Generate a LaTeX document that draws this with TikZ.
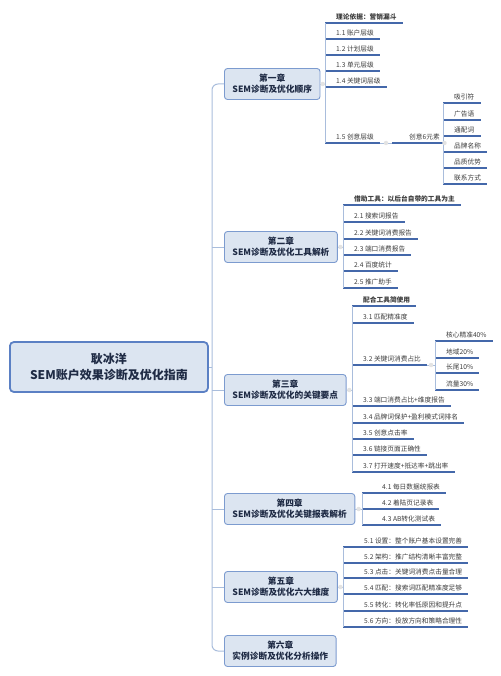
\documentclass[tikz,border=0pt]{standalone}
\usepackage{fontspec}
\setmainfont{Noto Sans CJK SC}
\usepackage{tikz}
\definecolor{boxfill}{HTML}{DCE5F1}
\definecolor{boxline}{HTML}{7C9BCF}
\definecolor{rootline}{HTML}{5B80C4}
\definecolor{titletext}{HTML}{1F2B45}
\definecolor{leaftext}{HTML}{3C3C3C}
\definecolor{ulinecol}{HTML}{4468AA}
\definecolor{twigcol}{HTML}{A9BDDC}
\tikzset{
  rootbox/.style={anchor=west,draw=rootline,line width=1.8pt,fill=boxfill,rounded corners=4pt,minimum width=198pt,minimum height=50pt,align=center,text=titletext,font=\fontsize{12}{16.5}\selectfont\bfseries},
  chap/.style={anchor=west,draw=boxline,line width=0.9pt,fill=boxfill,rounded corners=3pt,minimum height=31pt,inner xsep=8pt,align=center,text=titletext,font=\fontsize{8.7}{11.3}\selectfont\bfseries},
  uline/.style={draw=ulinecol,line width=1.3pt},
  leaf/.style={anchor=south west,inner xsep=0pt,inner ysep=2.4pt,text height=6.2pt,text depth=1pt,text=leaftext,font=\fontsize{6.7}{8}\selectfont,
    execute at begin node={\hspace*{11pt}},execute at end node={\hspace*{6pt}},
    append after command={(\tikzlastnode.south west) edge[uline] (\tikzlastnode.south east)}},
  twig/.style={draw=twigcol,line width=0.8pt},
  trunk/.style={draw=twigcol,line width=1pt,rounded corners=6pt},
  knob/.style={circle,fill=gray!22,inner sep=0pt,minimum size=4.5pt}
}
\begin{document}
\begin{tikzpicture}[x=1pt,y=-1pt]
\useasboundingbox (0,0) rectangle (500,676);
\node[rootbox] (root) at (9,367) {耿冰洋\\SEM账户效果诊断及优化指南};
\node[chap] (c1) at (224,84) {第一章\\SEM诊断及优化顺序};
\node[chap] (c2) at (224,247) {第二章\\SEM诊断及优化工具解析};
\node[chap] (c3) at (224,390) {第三章\\SEM诊断及优化的关键要点};
\node[chap] (c4) at (224,509) {第四章\\SEM诊断及优化关键报表解析};
\node[chap] (c5) at (224,587) {第五章\\SEM诊断及优化六大维度};
\node[chap] (c6) at (224,651) {第六章\\实例诊断及优化分析操作};
\coordinate (spine) at (212,367);
\draw[trunk] (c1.west) -| (spine) |- (c6.west);
\draw[twig] (root.east) -- (spine);
\draw[trunk] (spine |- c2.west) -- (c2.west); \draw[trunk] (spine |- c3.west) -- (c3.west);
\draw[trunk] (spine |- c4.west) -- (c4.west); \draw[trunk] (spine |- c5.west) -- (c5.west);

\node[leaf] (c1a) at (325,23) {\bfseries 理论依据：营销漏斗};
\node[leaf] (c1b) at (325,39) {1.1 账户层级}; \node[leaf] (c1c) at (325,55) {1.2 计划层级};
\node[leaf] (c1d) at (325,71) {1.3 单元层级}; \node[leaf] (c1e) at (325,87) {1.4 关键词层级};
\node[leaf] (c1f) at (325,143) {1.5 创意层级};
\node[leaf,execute at begin node={\hspace*{6pt}}] (c1g) at (392,143) {创意6元素};
\node[leaf] (e1) at (443,103) {吸引符}; \node[leaf] (e2) at (443,120) {广告语};
\node[leaf] (e3) at (443,136) {通配词}; \node[leaf] (e4) at (443,152) {品牌名称};
\node[leaf] (e5) at (443,168) {品质优势}; \node[leaf] (e6) at (443,184) {联系方式};
\draw[twig] (c1a.south west) -- (c1f.south west); \draw[twig] (e1.south west) -- (e6.south west);
\draw[twig] (c1.east) -- (c1.east -| c1a.south west) node[knob,midway]{};
\draw[twig] (c1f.south east) -- (c1g.south west) node[knob,midway]{};
\draw[twig] (c1g.south east) -- (c1g.south east -| e1.south west) node[knob,midway]{};

\node[leaf] (c2a) at (343,205) {\bfseries 借助工具：以后台自带的工具为主};
\node[leaf] (c2b) at (343,222) {2.1 搜索词报告}; \node[leaf] (c2c) at (343,239) {2.2 关键词消费报告};
\node[leaf] (c2d) at (343,255) {2.3 端口消费报告}; \node[leaf] (c2e) at (343,271) {2.4 百度统计};
\node[leaf] (c2f) at (343,288) {2.5 推广助手};
\draw[twig] (c2a.south west) -- (c2f.south west);
\draw[twig] (c2.east) -- (c2.east -| c2a.south west) node[knob,midway]{};

\node[leaf] (c3a) at (352,306) {\bfseries 配合工具简使用};
\node[leaf] (c3b) at (352,323) {3.1 匹配精准度}; \node[leaf] (c3c) at (352,365) {3.2 关键词消费占比};
\node[leaf] (c3d) at (352,406) {3.3 端口消费占比+维度报告}; \node[leaf] (c3e) at (352,423) {3.4 品牌词保护+盈利模式词排名};
\node[leaf] (c3f) at (352,439) {3.5 创意点击率}; \node[leaf] (c3g) at (352,455) {3.6 链接页面正确性};
\node[leaf] (c3h) at (352,472) {3.7 打开速度+抵达率+跳出率};
\node[leaf] (s1) at (435,341) {核心精准40\%}; \node[leaf] (s2) at (435,358) {地域20\%};
\node[leaf] (s3) at (435,373) {长尾10\%}; \node[leaf] (s4) at (435,390) {流量30\%};
\draw[twig] (c3a.south west) -- (c3h.south west); \draw[twig] (s1.south west) -- (s4.south west);
\draw[twig] (c3.east) -- (c3.east -| c3a.south west) node[knob,midway]{};
\draw[twig] (c3c.south east) -- (c3c.south east -| s1.south west) node[knob,midway]{};

\node[leaf,execute at begin node={\hspace*{9pt}}] (c4a) at (362,493) {4.1 每日数据统报表};
\node[leaf,execute at begin node={\hspace*{9pt}}] (c4b) at (362,509) {4.2 着陆页记录表};
\node[leaf,execute at begin node={\hspace*{9pt}}] (c4c) at (362,525) {4.3 AB转化测试表};
\draw[twig] (c4a.south west) -- (c4c.south west);
\draw[twig] (c4.east) -- (c4.east -| c4a.south west) node[knob,midway]{};

\node[leaf,execute at begin node={\hspace*{10pt}}] (c5a) at (343,547) {5.1 设置：整个账户基本设置完善};
\node[leaf,execute at begin node={\hspace*{10pt}}] (c5b) at (343,563) {5.2 架构：推广结构清晰丰富完整};
\node[leaf,execute at begin node={\hspace*{10pt}}] (c5c) at (343,578) {5.3 点击：关键词消费点击量合理};
\node[leaf,execute at begin node={\hspace*{10pt}}] (c5d) at (343,594) {5.4 匹配：搜索词匹配精准度足够};
\node[leaf,execute at begin node={\hspace*{10pt}}] (c5e) at (343,611) {5.5 转化：转化率低原因和提升点};
\node[leaf,execute at begin node={\hspace*{10pt}}] (c5f) at (343,627) {5.6 方向：投放方向和策略合理性};
\draw[twig] (c5a.south west) -- (c5f.south west);
\draw[twig] (c5.east) -- (c5.east -| c5a.south west) node[knob,midway]{};
\end{tikzpicture}
\end{document}
